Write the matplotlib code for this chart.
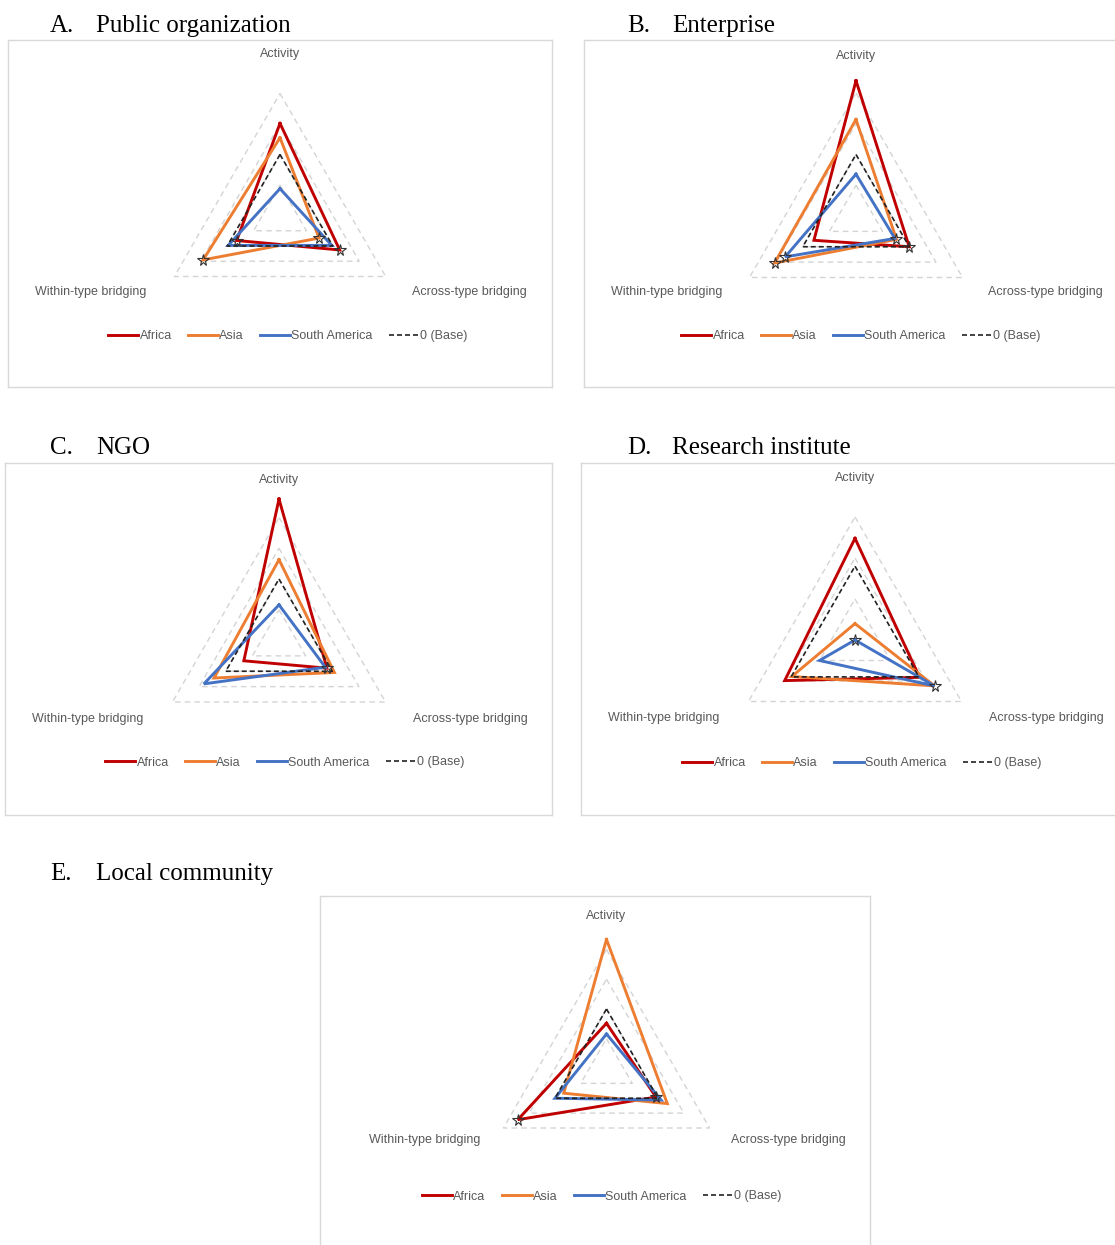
import matplotlib.pyplot as plt
import numpy as np
from matplotlib.lines import Line2D

# axis order: Activity (top), Across-type (lower right), Within-type (lower left)
axis_labels = ["Activity", "Across-type bridging", "Within-type bridging"]
series_names = ["Africa", "Asia", "South America"]
panel_letters = ["A.", "B.", "C.", "D.", "E."]
panel_titles = ["Public organization", "Enterprise", "NGO", "Research institute", "Local community"]

africa = [[0.51, 0.13, -0.18],
          [1.20, 0.00, -0.21],
          [1.30, -0.10, -0.34],
          [0.34, 0.01, 0.09],
          [-0.24, -0.04, 0.72]]
asia = [[0.275, -0.26, 0.455],
        [0.57, -0.24, 0.53],
        [0.315, 0.04, 0.22],
        [-0.70, 0.22, -0.01],
        [1.17, 0.18, -0.17]]
south_america = [[-0.56, -0.02, -0.02],
                 [-0.32, -0.27, 0.33],
                 [-0.42, -0.13, 0.41],
                 [-0.90, 0.22, -0.40],
                 [-0.42, 0.06, 0.00]]
base = [0, 0, 0]

# significant points: (series index, axis index)
stars = [[(0, 1), (0, 2), (1, 1), (1, 2)],
         [(0, 1), (1, 1), (1, 2), (2, 2)],
         [(0, 1)],
         [(2, 0), (2, 1)],
         [(0, 2), (0, 1)]]

r_min = [-1, -1, -1, -0.9, -1]
r_max = [1, 1, 1, 0.6, 1]
grid_levels = [[-0.5, 0, 0.5, 1], [-0.5, 0, 0.5, 1], [-0.5, 0, 0.5, 1],
               [-0.4, 0.1, 0.6], [-0.5, 0, 0.5, 1]]

colors = ["#C00000", "#ED7D31", "#4472C4"]
gray_txt = "#595959"

W, H = 1115, 1245
fig = plt.figure(figsize=(W / 100, H / 100), dpi=100)

def fx(px):
    return px / W

def fy(py):
    return 1 - py / H

# layout in pixels
boxes = [(8, 40, 552, 387), (584, 40, 1128, 387), (5, 463, 552, 815),
         (581, 463, 1125, 815), (320, 896, 870, 1252)]
centers = [(280, 215.5), (856, 216), (279, 640.5), (855, 640), (606.5, 1068.5)]
radius = [122, 123, 123, 123, 119]
title_pos = [(50, 96, 32), (627, 672, 32), (50, 96, 454), (627, 672, 454), (50, 96, 880)]
act_dy = [-161, -160, -161, -162, -152]
side_dx = [189, 189, 191, 191, 182]
side_dy = [77, 76, 78, 78, 72]
leg_off = [(8, 121), (5, 120), (6, 122), (7, 123), (-5, 128)]

theta = np.deg2rad([90, -30, 210])
closed = np.append(theta, theta[0])
all_series = [africa, asia, south_america]

for i in range(5):
    bx0, by0, bx1, by1 = boxes[i]
    frame = fig.add_axes([fx(bx0), fy(by1), (bx1 - bx0) / W, (by1 - by0) / H])
    frame.set_xticks([])
    frame.set_yticks([])
    frame.patch.set_alpha(0)
    for s in frame.spines.values():
        s.set_color("#d9d9d9")
        s.set_linewidth(1)

    cx, cy = centers[i]
    R = radius[i]
    ax = fig.add_axes([fx(cx - R), fy(cy + R), 2 * R / W, 2 * R / H], projection="polar")
    ax.patch.set_alpha(0)
    ax.spines["polar"].set_visible(False)
    ax.grid(False)
    ax.set_xticks([])
    ax.set_yticks([])

    for lev in grid_levels[i]:
        ax.plot(closed, [lev] * 4, color="#d4d4d4", lw=1, ls=(0, (4, 3)),
                clip_on=False, zorder=1)

    handles = []
    for k, data in enumerate(all_series):
        v = data[i]
        ln, = ax.plot(closed, v + [v[0]], color=colors[k], lw=2.1,
                      clip_on=False, zorder=3, solid_joinstyle="miter")
        handles.append(ln)
    bl, = ax.plot(closed, base + [base[0]], color="#222222", lw=1.2,
                  ls=(0, (3, 1.8)), clip_on=False, zorder=4)
    handles.append(bl)

    for (k, j) in stars[i]:
        ax.plot(theta[j], all_series[k][i][j], marker="*", ms=8.5, mfc="none",
                mec="#333333", mew=0.8, clip_on=False, zorder=5)

    ax.set_ylim(r_min[i], r_max[i])

    # axis labels
    fig.text(fx(cx), fy(cy + act_dy[i]), axis_labels[0], ha="center", va="center",
             fontsize=9, color=gray_txt, family="Liberation Sans")
    fig.text(fx(cx + side_dx[i]), fy(cy + side_dy[i]), axis_labels[1], ha="center",
             va="center", fontsize=9, color=gray_txt, family="Liberation Sans")
    fig.text(fx(cx - side_dx[i]), fy(cy + side_dy[i]), axis_labels[2], ha="center",
             va="center", fontsize=9, color=gray_txt, family="Liberation Sans")

    # legend
    lx, ly = leg_off[i]
    leg = fig.legend(handles, series_names + ["0 (Base)"], loc="center",
                     bbox_to_anchor=(fx(cx + lx), fy(cy + ly)), ncol=4, frameon=False,
                     handlelength=2.4, handletextpad=0.1, columnspacing=1.3,
                     prop={"family": "Liberation Sans", "size": 9})
    for t in leg.get_texts():
        t.set_color(gray_txt)

    # panel title
    tx1, tx2, ty = title_pos[i]
    fig.text(fx(tx1), fy(ty), panel_letters[i], fontsize=18, family="Liberation Serif",
             va="baseline", ha="left")
    fig.text(fx(tx2), fy(ty), panel_titles[i], fontsize=18, family="Liberation Serif",
             va="baseline", ha="left")

fig.savefig("out.png", dpi=100)
